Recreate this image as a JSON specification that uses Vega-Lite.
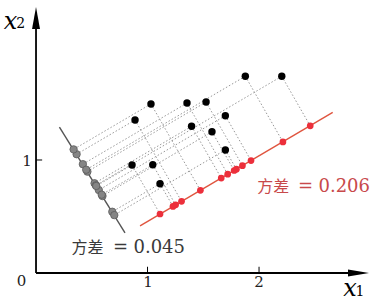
{
  "$schema": "https://vega.github.io/schema/vega-lite/v6.json",
  "width": 373,
  "height": 301,
  "autosize": "none",
  "padding": 0,
  "background": "white",
  "config": {"view": {"stroke": null}},
  "datasets": {
    "pts": [
      {"x": 0.888, "y": 1.354, "rx": 1.305, "ry": 0.634, "gx": 0.364, "gy": 1.051},
      {"x": 1.031, "y": 1.496, "rx": 1.474, "ry": 0.732, "gx": 0.337, "gy": 1.094},
      {"x": 1.354, "y": 1.504, "rx": 1.719, "ry": 0.874, "gx": 0.420, "gy": 0.963},
      {"x": 1.525, "y": 1.513, "rx": 1.851, "ry": 0.950, "gx": 0.461, "gy": 0.897},
      {"x": 1.395, "y": 1.298, "rx": 1.661, "ry": 0.840, "gx": 0.525, "gy": 0.794},
      {"x": 1.578, "y": 1.250, "rx": 1.777, "ry": 0.907, "gx": 0.596, "gy": 0.681},
      {"x": 1.698, "y": 1.392, "rx": 1.928, "ry": 0.995, "gx": 0.563, "gy": 0.734},
      {"x": 1.877, "y": 1.741, "rx": 2.214, "ry": 1.160, "gx": 0.450, "gy": 0.914},
      {"x": 2.204, "y": 1.741, "rx": 2.459, "ry": 1.302, "gx": 0.537, "gy": 0.776},
      {"x": 0.861, "y": 0.956, "rx": 1.112, "ry": 0.522, "gx": 0.540, "gy": 0.770},
      {"x": 1.047, "y": 0.958, "rx": 1.252, "ry": 0.603, "gx": 0.589, "gy": 0.693},
      {"x": 1.112, "y": 0.790, "rx": 1.228, "ry": 0.589, "gx": 0.684, "gy": 0.542},
      {"x": 1.698, "y": 1.089, "rx": 1.797, "ry": 0.919, "gx": 0.702, "gy": 0.512}
    ],
    "lines": [
      {"kind": "red", "x": 0.933, "y": 0.416, "x2": 2.661, "y2": 1.422},
      {"kind": "gray", "x": 0.21, "y": 1.29, "x2": 0.798, "y2": 0.355},
      {"kind": "axis", "x": 0, "y": 0, "x2": 2.87, "y2": 0},
      {"kind": "axis", "x": 0, "y": 0, "x2": 0, "y2": 2.24},
      {"kind": "tick", "x": 1, "y": 0, "x2": 1, "y2": 0.055},
      {"kind": "tick", "x": 2, "y": 0, "x2": 2, "y2": 0.055},
      {"kind": "tick", "x": 0, "y": 1, "x2": 0.055, "y2": 1}
    ],
    "arrows": [
      {"dir": "right", "x": 2.892, "y": 0},
      {"dir": "up", "x": 0, "y": 2.257}
    ],
    "ticklabels": [
      {"label": "0", "x": -0.13, "y": -0.075},
      {"label": "1", "x": 1.004, "y": -0.084},
      {"label": "2", "x": 2.0, "y": -0.084},
      {"label": "1", "x": -0.08, "y": 0.991}
    ],
    "axislabels": [
      {"label": "x", "x": 2.816, "y": -0.14},
      {"label": "x", "x": -0.229, "y": 2.225}
    ],
    "subs": [
      {"label": "1", "x": 2.905, "y": -0.165},
      {"label": "2", "x": -0.137, "y": 2.2}
    ],
    "texts": [
      {"series": "gray", "part": "cjk", "label": "方差", "x": 0.461, "y": 0.221},
      {"series": "gray", "part": "eq", "label": "=", "x": 0.758, "y": 0.221},
      {"series": "gray", "part": "num", "label": "0.045", "x": 0.874, "y": 0.221},
      {"series": "red", "part": "cjk", "label": "方差", "x": 2.128, "y": 0.761},
      {"series": "red", "part": "eq", "label": "=", "x": 2.417, "y": 0.761},
      {"series": "red", "part": "num", "label": "0.206", "x": 2.533, "y": 0.761}
    ]
  },
  "layer": [
    {
      "data": {"name": "pts"},
      "mark": {"type": "rule", "stroke": "#8c8c8c", "strokeWidth": 0.9, "strokeDash": [1.5, 2]},
      "encoding": {
        "x": {"field": "x", "type": "quantitative", "scale": {"domain": [-0.323, 3.022], "nice": false, "zero": false}, "axis": null},
        "y": {"field": "y", "type": "quantitative", "scale": {"domain": [-0.248, 2.416], "nice": false, "zero": false}, "axis": null},
        "x2": {"field": "rx"},
        "y2": {"field": "ry"}
      }
    },
    {
      "data": {"name": "pts"},
      "mark": {"type": "rule", "stroke": "#8c8c8c", "strokeWidth": 0.9, "strokeDash": [1.5, 2]},
      "encoding": {
        "x": {"field": "x", "type": "quantitative", "scale": {"domain": [-0.323, 3.022], "nice": false, "zero": false}, "axis": null},
        "y": {"field": "y", "type": "quantitative", "scale": {"domain": [-0.248, 2.416], "nice": false, "zero": false}, "axis": null},
        "x2": {"field": "gx"},
        "y2": {"field": "gy"}
      }
    },
    {
      "data": {"name": "lines"},
      "transform": [{"filter": "datum.kind === 'red'"}],
      "mark": {"type": "rule", "stroke": "#e0553f", "strokeWidth": 1.4},
      "encoding": {
        "x": {"field": "x", "type": "quantitative", "scale": {"domain": [-0.323, 3.022], "nice": false, "zero": false}, "axis": null},
        "y": {"field": "y", "type": "quantitative", "scale": {"domain": [-0.248, 2.416], "nice": false, "zero": false}, "axis": null},
        "x2": {"field": "x2"},
        "y2": {"field": "y2"}
      }
    },
    {
      "data": {"name": "lines"},
      "transform": [{"filter": "datum.kind === 'gray'"}],
      "mark": {"type": "rule", "stroke": "#555555", "strokeWidth": 1.4},
      "encoding": {
        "x": {"field": "x", "type": "quantitative", "scale": {"domain": [-0.323, 3.022], "nice": false, "zero": false}, "axis": null},
        "y": {"field": "y", "type": "quantitative", "scale": {"domain": [-0.248, 2.416], "nice": false, "zero": false}, "axis": null},
        "x2": {"field": "x2"},
        "y2": {"field": "y2"}
      }
    },
    {
      "data": {"name": "lines"},
      "transform": [{"filter": "datum.kind === 'axis'"}],
      "mark": {"type": "rule", "stroke": "#000000", "strokeWidth": 1.8},
      "encoding": {
        "x": {"field": "x", "type": "quantitative", "scale": {"domain": [-0.323, 3.022], "nice": false, "zero": false}, "axis": null},
        "y": {"field": "y", "type": "quantitative", "scale": {"domain": [-0.248, 2.416], "nice": false, "zero": false}, "axis": null},
        "x2": {"field": "x2"},
        "y2": {"field": "y2"}
      }
    },
    {
      "data": {"name": "lines"},
      "transform": [{"filter": "datum.kind === 'tick'"}],
      "mark": {"type": "rule", "stroke": "#000000", "strokeWidth": 1},
      "encoding": {
        "x": {"field": "x", "type": "quantitative", "scale": {"domain": [-0.323, 3.022], "nice": false, "zero": false}, "axis": null},
        "y": {"field": "y", "type": "quantitative", "scale": {"domain": [-0.248, 2.416], "nice": false, "zero": false}, "axis": null},
        "x2": {"field": "x2"},
        "y2": {"field": "y2"}
      }
    },
    {
      "data": {"name": "arrows"},
      "transform": [{"filter": "datum.dir === 'right'"}],
      "mark": {"type": "point", "filled": true, "color": "#000000", "opacity": 1, "size": 441, "shape": "M-1,-0.33L1,0L-1,0.33Z"},
      "encoding": {
        "x": {"field": "x", "type": "quantitative", "scale": {"domain": [-0.323, 3.022], "nice": false, "zero": false}, "axis": null},
        "y": {"field": "y", "type": "quantitative", "scale": {"domain": [-0.248, 2.416], "nice": false, "zero": false}, "axis": null}
      }
    },
    {
      "data": {"name": "arrows"},
      "transform": [{"filter": "datum.dir === 'up'"}],
      "mark": {"type": "point", "filled": true, "color": "#000000", "opacity": 1, "size": 484, "shape": "M-0.36,1L0,-1L0.36,1Z"},
      "encoding": {
        "x": {"field": "x", "type": "quantitative", "scale": {"domain": [-0.323, 3.022], "nice": false, "zero": false}, "axis": null},
        "y": {"field": "y", "type": "quantitative", "scale": {"domain": [-0.248, 2.416], "nice": false, "zero": false}, "axis": null}
      }
    },
    {
      "data": {"name": "pts"},
      "mark": {"type": "point", "filled": true, "fill": "#858585", "stroke": "#5a5a5a", "strokeWidth": 0.8, "opacity": 1, "size": 55},
      "encoding": {
        "x": {"field": "gx", "type": "quantitative", "scale": {"domain": [-0.323, 3.022], "nice": false, "zero": false}, "axis": null},
        "y": {"field": "gy", "type": "quantitative", "scale": {"domain": [-0.248, 2.416], "nice": false, "zero": false}, "axis": null}
      }
    },
    {
      "data": {"name": "pts"},
      "mark": {"type": "point", "filled": true, "color": "#ec2f3b", "opacity": 1, "size": 45},
      "encoding": {
        "x": {"field": "rx", "type": "quantitative", "scale": {"domain": [-0.323, 3.022], "nice": false, "zero": false}, "axis": null},
        "y": {"field": "ry", "type": "quantitative", "scale": {"domain": [-0.248, 2.416], "nice": false, "zero": false}, "axis": null}
      }
    },
    {
      "data": {"name": "pts"},
      "mark": {"type": "point", "filled": true, "color": "#000000", "opacity": 1, "size": 55},
      "encoding": {
        "x": {"field": "x", "type": "quantitative", "scale": {"domain": [-0.323, 3.022], "nice": false, "zero": false}, "axis": null},
        "y": {"field": "y", "type": "quantitative", "scale": {"domain": [-0.248, 2.416], "nice": false, "zero": false}, "axis": null}
      }
    },
    {
      "data": {"name": "ticklabels"},
      "mark": {"type": "text", "font": "DejaVu Serif", "fontSize": 15, "color": "#222222", "align": "center", "baseline": "middle"},
      "encoding": {
        "x": {"field": "x", "type": "quantitative", "scale": {"domain": [-0.323, 3.022], "nice": false, "zero": false}, "axis": null},
        "y": {"field": "y", "type": "quantitative", "scale": {"domain": [-0.248, 2.416], "nice": false, "zero": false}, "axis": null},
        "text": {"field": "label"}
      }
    },
    {
      "data": {"name": "axislabels"},
      "mark": {"type": "text", "font": "DejaVu Serif", "fontStyle": "italic", "fontSize": 24, "color": "#000000", "align": "center", "baseline": "middle"},
      "encoding": {
        "x": {"field": "x", "type": "quantitative", "scale": {"domain": [-0.323, 3.022], "nice": false, "zero": false}, "axis": null},
        "y": {"field": "y", "type": "quantitative", "scale": {"domain": [-0.248, 2.416], "nice": false, "zero": false}, "axis": null},
        "text": {"field": "label"}
      }
    },
    {
      "data": {"name": "subs"},
      "mark": {"type": "text", "font": "DejaVu Serif", "fontSize": 14, "color": "#000000", "align": "center", "baseline": "middle"},
      "encoding": {
        "x": {"field": "x", "type": "quantitative", "scale": {"domain": [-0.323, 3.022], "nice": false, "zero": false}, "axis": null},
        "y": {"field": "y", "type": "quantitative", "scale": {"domain": [-0.248, 2.416], "nice": false, "zero": false}, "axis": null},
        "text": {"field": "label"}
      }
    },
    {
      "data": {"name": "texts"},
      "transform": [{"filter": "datum.part === 'cjk'"}],
      "mark": {"type": "text", "font": "Noto Sans CJK SC", "fontSize": 16, "align": "center", "baseline": "middle"},
      "encoding": {
        "x": {"field": "x", "type": "quantitative", "scale": {"domain": [-0.323, 3.022], "nice": false, "zero": false}, "axis": null},
        "y": {"field": "y", "type": "quantitative", "scale": {"domain": [-0.248, 2.416], "nice": false, "zero": false}, "axis": null},
        "text": {"field": "label"},
        "color": {"field": "series", "type": "nominal", "scale": {"domain": ["gray", "red"], "range": ["#3a3a3a", "#c8494b"]}, "legend": null}
      }
    },
    {
      "data": {"name": "texts"},
      "transform": [{"filter": "datum.part === 'eq'"}],
      "mark": {"type": "text", "font": "DejaVu Serif", "fontSize": 18, "align": "center", "baseline": "middle"},
      "encoding": {
        "x": {"field": "x", "type": "quantitative", "scale": {"domain": [-0.323, 3.022], "nice": false, "zero": false}, "axis": null},
        "y": {"field": "y", "type": "quantitative", "scale": {"domain": [-0.248, 2.416], "nice": false, "zero": false}, "axis": null},
        "text": {"field": "label"},
        "color": {"field": "series", "type": "nominal", "scale": {"domain": ["gray", "red"], "range": ["#3a3a3a", "#c8494b"]}, "legend": null}
      }
    },
    {
      "data": {"name": "texts"},
      "transform": [{"filter": "datum.part === 'num'"}],
      "mark": {"type": "text", "font": "DejaVu Serif", "fontSize": 18, "align": "left", "baseline": "middle"},
      "encoding": {
        "x": {"field": "x", "type": "quantitative", "scale": {"domain": [-0.323, 3.022], "nice": false, "zero": false}, "axis": null},
        "y": {"field": "y", "type": "quantitative", "scale": {"domain": [-0.248, 2.416], "nice": false, "zero": false}, "axis": null},
        "text": {"field": "label"},
        "color": {"field": "series", "type": "nominal", "scale": {"domain": ["gray", "red"], "range": ["#3a3a3a", "#c8494b"]}, "legend": null}
      }
    }
  ]
}
